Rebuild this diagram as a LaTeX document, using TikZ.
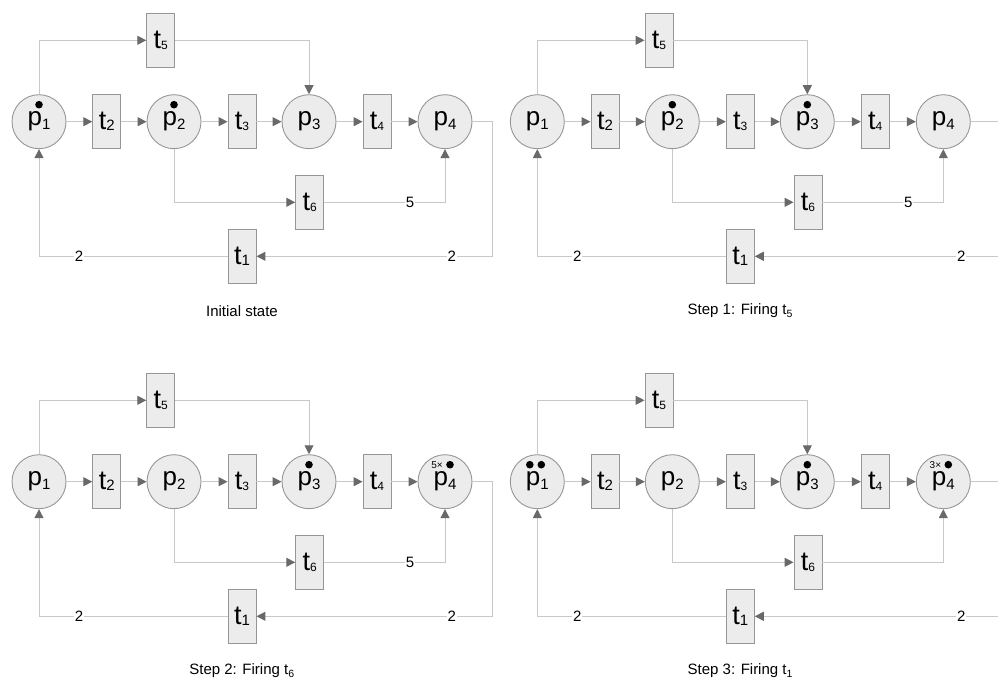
\documentclass[tikz,border=0pt]{standalone}
\usepackage{fontspec}
\setmainfont{Liberation Sans}
\usetikzlibrary{arrows.meta}

\definecolor{placefill}{RGB}{236,236,236}
\definecolor{rimgray}{RGB}{150,150,150}
\definecolor{linegray}{RGB}{200,200,200}
\definecolor{tipgray}{RGB}{105,105,105}

% labels of places and transitions
\newcommand{\plab}[1]{{\fontsize{26}{26}\selectfont p}\raisebox{-4pt}{\fontsize{15}{15}\selectfont #1}}
\newcommand{\tlab}[2][15]{{\fontsize{27}{27}\selectfont t}\raisebox{-1pt}{\fontsize{#1}{#1}\selectfont #2}}

\begin{document}
\begin{tikzpicture}[
  x=1pt,y=-1pt,
  place/.style={circle,draw=rimgray,fill=placefill,line width=0.9pt,
                minimum size=54pt,inner sep=0pt},
  trans/.style={rectangle,draw=rimgray,fill=placefill,line width=0.9pt,
                minimum width=28pt,minimum height=54pt,inner sep=0pt},
  flow/.style={draw=linegray,line width=1pt,
               -{Triangle[length=9pt,width=9pt,color=tipgray]}},
  wlab/.style={fill=white,inner sep=1pt,font=\fontsize{15}{15}\selectfont},
  caption/.style={font=\fontsize{15}{15}\selectfont},
  token/.style={circle,fill=black,inner sep=0pt,minimum size=7.6pt},
  tokcount/.style={anchor=east,inner sep=0pt,text height=7pt,text depth=0pt,
                   font=\fontsize{10}{10}\selectfont}
]
\clip (0,0) rectangle (998,684);

% ---- the same net, four times ----
\foreach \nm/\dx/\dy/\rx/\wt/\ttl in {
    A/0/0/492.7/5/{Initial state},
    B/498.3/0/504/5/{Step 1: Firing t\textsubscript{5}},
    C/0/360/492.7/5/{Step 2: Firing t\textsubscript{6}},
    D/498.3/360/504/0/{Step 3: Firing t\textsubscript{1}}}{
\begin{scope}[shift={(\dx,\dy)},name prefix=\nm-]
  % places
  \node[place] (p1) at (39,121.7)  {\plab{1}};
  \node[place] (p2) at (174,121.7) {\plab{2}};
  \node[place] (p3) at (309,121.7) {\plab{3}};
  \node[place] (p4) at (445,121.7) {\plab{4}};
  % transitions
  \node[trans] (t1) at (242,256.3)   {\tlab{1}};
  \node[trans] (t2) at (106.7,121.7) {\tlab{2}};
  \node[trans] (t3) at (242,121.7)   {\tlab[12]{3}};
  \node[trans] (t4) at (377,121.7)   {\tlab[12]{4}};
  \node[trans] (t5) at (160.7,40.3)  {\tlab[12]{5}};
  \node[trans] (t6) at (309.7,202.3) {\tlab[12]{6}};
  \coordinate (rc) at (\rx,256.3);

  % arcs along the middle row
  \draw[flow] (p1) -- (t2);
  \draw[flow] (t2) -- (p2);
  \draw[flow] (p2) -- (t3);
  \draw[flow] (t3) -- (p3);
  \draw[flow] (p3) -- (t4);
  \draw[flow] (t4) -- (p4);
  % detours and the way back
  \draw[flow] (p1.north) |- (t5.west);
  \draw[flow] (t5.east) -| (p3.north);
  \draw[flow] (p2.south) |- (t6.west);
  \draw[flow] (t6.east) -| (p4.south);
  \draw[flow] (p4.east) -| (rc) -- (t1.east);
  \draw[flow] (t1.west) -| (p1.south);

  % weights
  \ifnum\wt>0
    \node[wlab] (w5) at (410,202.3) {\wt};
  \fi
  \node[wlab] (w2a) at (79,256.3) {2};
  \node[wlab] (w2b) at (\rx-41,256.3) {2};

  \node[caption] (cap) at (242,311) {\ttl};
\end{scope}
}

% ---- tokens ----
\node[token] (A-k1) at ([yshift=17pt]A-p1.center) {};
\node[token] (A-k2) at ([yshift=17pt]A-p2.center) {};

\node[token] (B-k2) at ([yshift=17pt]B-p2.center) {};
\node[token] (B-k3) at ([yshift=17pt]B-p3.center) {};

\node[token] (C-k3) at ([yshift=17pt]C-p3.center) {};
\node[token] (C-k4) at ([xshift=5pt,yshift=17pt]C-p4.center) {};
\node[tokcount] (C-n4) at ([xshift=-2pt,yshift=17pt]C-p4.center) {5×};

\node[token] (D-k1a) at ([xshift=-7.5pt,yshift=17pt]D-p1.center) {};
\node[token] (D-k1b) at ([xshift=4pt,yshift=17pt]D-p1.center) {};
\node[token] (D-k3) at ([yshift=17pt]D-p3.center) {};
\node[token] (D-k4) at ([xshift=5pt,yshift=17pt]D-p4.center) {};
\node[tokcount] (D-n4) at ([xshift=-2pt,yshift=17pt]D-p4.center) {3×};

\end{tikzpicture}
\end{document}
